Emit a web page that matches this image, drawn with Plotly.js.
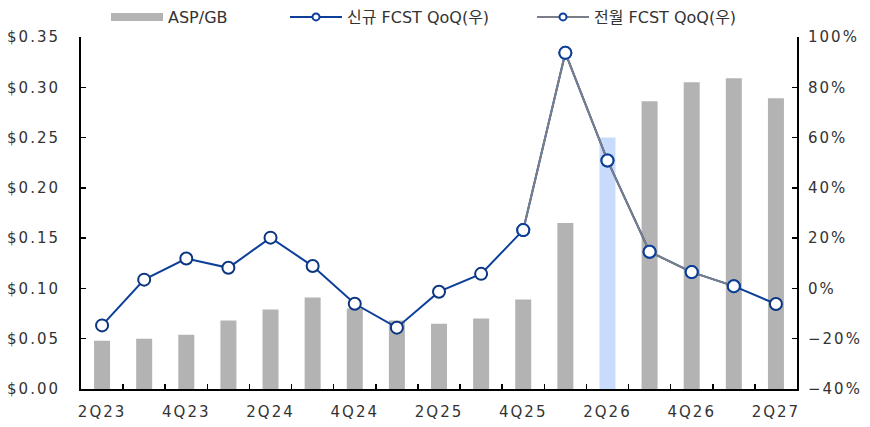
<!DOCTYPE html>
<html>
<head>
<meta charset="utf-8">
<script src="https://cdn.plot.ly/plotly-3.0.1.min.js"></script>
<style>
  html, body { margin: 0; padding: 0; background: #fff; }
  #chart { width: 870px; height: 427px; }
  #chart .xtick text, #chart .x2tick text, #chart .ytick text, #chart .y2tick text { letter-spacing: 2px; }
</style>
</head>
<body>
<div id="chart"></div>
<script>
// quarters on the x axis
const quarters = ['2Q23','3Q23','4Q23','1Q24','2Q24','3Q24','4Q24','1Q25','2Q25','3Q25','4Q25','1Q26','2Q26','3Q26','4Q26','1Q27','2Q27'];
const tickLabels = ['2Q23','4Q23','2Q24','4Q24','2Q25','4Q25','2Q26','4Q26','2Q27'];

// ASP per GB ($), left axis
const aspPerGb = [0.048,0.050,0.054,0.068,0.079,0.091,0.080,0.068,0.065,0.070,0.089,0.165,0.250,0.286,0.305,0.309,0.289];
// QoQ (%), right axis
const newFcstQoq = [-14.7,3.5,11.9,8.2,20.2,8.9,-6.1,-15.6,-1.3,5.8,23.2,93.7,50.9,14.6,6.5,0.9,-6.2];
const prevFcstQoq = [null,null,null,null,null,null,null,null,null,null,23.2,93.7,50.9,14.6,6.5,0.9,null];

const highlightQuarter = '2Q26';

const xIdx = quarters.map((q, i) => i);
const barColors = quarters.map(q => q === highlightQuarter ? '#c9dbfb' : '#b3b3b3');
const labelIdx = tickLabels.map(t => quarters.indexOf(t));
const boundaryTicks = quarters.slice(1).map((q, i) => i + 0.5);

const fam = 'DejaVu Sans, Noto Sans CJK KR, sans-serif';
const font = {family: fam, size: 15, color: '#333'};
const legendFont = {family: fam, size: 16, color: '#333'};
const navy = '#0b3f99';
const gray = '#7a7e88';

const traces = [
  {
    x: xIdx, y: aspPerGb, type: 'bar', name: 'ASP/GB', showlegend: false,
    marker: {color: barColors}, width: 0.38
  },
  {
    x: xIdx, y: newFcstQoq, type: 'scatter', mode: 'lines+markers',
    name: '신규 FCST QoQ(우)', yaxis: 'y2', showlegend: false,
    line: {color: navy, width: 2},
    marker: {size: 12, color: '#fff', line: {color: '#0b3580', width: 2}}
  },
  {
    x: xIdx, y: prevFcstQoq, type: 'scatter', mode: 'lines+markers',
    name: '전월 FCST QoQ(우)', yaxis: 'y2', showlegend: false,
    line: {color: gray, width: 2},
    marker: {size: 12, color: '#fff', line: {color: navy, width: 2}}
  },
  // legend entries
  {x: [null], y: [null], type: 'scatter', mode: 'lines', name: 'ASP/GB', legend: 'legend',
   line: {color: '#b3b3b3', width: 8}},
  {x: [null], y: [null], type: 'scatter', mode: 'lines+markers', name: '신규 FCST QoQ(우)', legend: 'legend2',
   line: {color: navy, width: 2}, marker: {size: 7, color: '#fff', line: {color: navy, width: 2}}},
  {x: [null], y: [null], type: 'scatter', mode: 'lines+markers', name: '전월 FCST QoQ(우)', legend: 'legend3',
   line: {color: gray, width: 2}, marker: {size: 7, color: '#fff', line: {color: navy, width: 2}}},
  // keeps the label axis drawn
  {x: [0], y: [null], xaxis: 'x2', type: 'scatter', showlegend: false}
];

const legendBase = {
  orientation: 'h', y: 1, yref: 'container', yanchor: 'top', xref: 'container', xanchor: 'left',
  font: legendFont, itemwidth: 52, bgcolor: 'rgba(0,0,0,0)'
};

const axisTicks = {ticks: 'inside', ticklen: 5, tickwidth: 1.5, tickcolor: '#000',
  showline: true, linecolor: '#000', linewidth: 2, showgrid: false, zeroline: false, tickfont: font};

const layout = {
  width: 870, height: 427,
  margin: {l: 81, r: 73, t: 37, b: 38},
  paper_bgcolor: '#fff', plot_bgcolor: '#fff',
  font: font,
  showlegend: true,
  legend: Object.assign({}, legendBase, {x: 106 / 870}),
  legend2: Object.assign({}, legendBase, {x: 285 / 870}),
  legend3: Object.assign({}, legendBase, {x: 532 / 870}),
  xaxis: Object.assign({}, axisTicks, {
    range: [-0.5, 16.5], tickvals: boundaryTicks, showticklabels: false
  }),
  xaxis2: {
    overlaying: 'x', range: [-0.5, 16.5], tickvals: labelIdx, ticktext: tickLabels,
    ticks: '', showgrid: false, zeroline: false, side: 'bottom', anchor: 'y', tickfont: font,
    ticklabelstandoff: 12
  },
  yaxis: Object.assign({}, axisTicks, {
    range: [0, 0.35], dtick: 0.05, tickformat: '$.2f', ticklabelstandoff: 16
  }),
  yaxis2: Object.assign({}, axisTicks, {
    overlaying: 'y', side: 'right', range: [-40, 100], dtick: 20, ticksuffix: '%',
    ticklabelstandoff: 6
  })
};

Plotly.newPlot('chart', traces, layout, {displayModeBar: false, staticPlot: true});
</script>
</body>
</html>
